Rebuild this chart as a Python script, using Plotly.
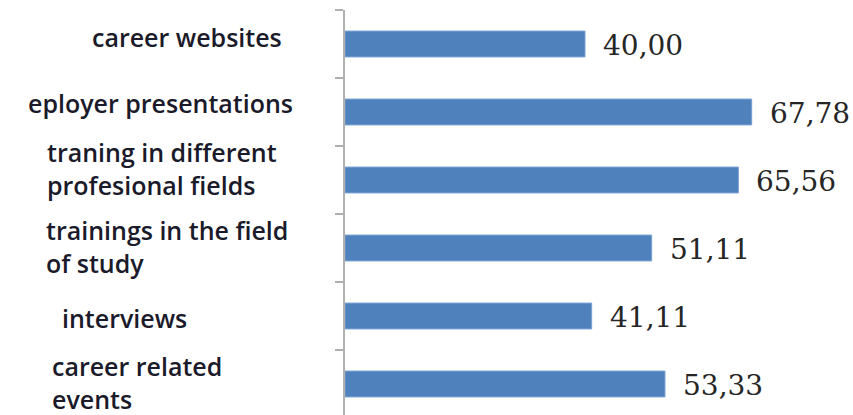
import plotly.graph_objects as go

categories = [
    "career websites",
    "eployer presentations",
    "traning in different<br>profesional fields",
    "trainings in the field<br>of study",
    "interviews",
    "career related<br>events",
]
values = [40.00, 67.78, 65.56, 51.11, 41.11, 53.33]
value_labels = [f"{v:.2f}".replace(".", ",") for v in values]

# layout-only: left edge (px) and vertical shift of each category label
label_left_px = [90, 26, 45, 44, 60, 50]
label_yshift = [7, 9, 12, 2, -2, 2]

W, H = 853, 415
ML, MT = 345, 10
PW = W - ML
PX_PER_UNIT = 6.0

fig = go.Figure(
    go.Bar(
        y=list(range(len(categories))),
        x=values,
        orientation="h",
        width=0.38,
        marker=dict(color="#4f81bd", line=dict(color="#7aa0d0", width=1)),
        hoverinfo="skip",
    )
)

annotations = []
for i, (lab, lx, ys) in enumerate(zip(categories, label_left_px, label_yshift)):
    annotations.append(dict(
        text=lab, xref="paper", yref="y", x=(lx - ML) / PW, y=i,
        xanchor="left", yanchor="middle", align="left", showarrow=False,
        yshift=ys,
        font=dict(family="Open Sans", size=25, color="#1a1a2a", weight=600),
    ))
for i, (v, t) in enumerate(zip(values, value_labels)):
    annotations.append(dict(
        text=t, xref="x", yref="y", x=v, y=i, xanchor="left", yanchor="middle",
        showarrow=False, xshift=16, yshift=-1,
        font=dict(family="DejaVu Serif", size=28, color="#262626"),
    ))

fig.update_layout(
    width=W, height=H,
    margin=dict(l=ML, r=0, t=MT, b=0, pad=0),
    paper_bgcolor="white", plot_bgcolor="white",
    showlegend=False,
    annotations=annotations,
    xaxis=dict(range=[0, PW / PX_PER_UNIT], visible=False, fixedrange=True),
    yaxis=dict(
        type="linear",
        range=[-0.5 + (H - MT) / 68.0, -0.5],
        tickmode="array",
        tickvals=[i - 0.5 for i in range(len(categories) + 1)],
        showticklabels=False,
        ticks="outside", ticklen=8, tickwidth=1.5, tickcolor="#b0b0b0",
        showline=True, linecolor="#b0b0b0", linewidth=2,
        showgrid=False, zeroline=False, fixedrange=True,
    ),
)

fig.write_html("out.html")
